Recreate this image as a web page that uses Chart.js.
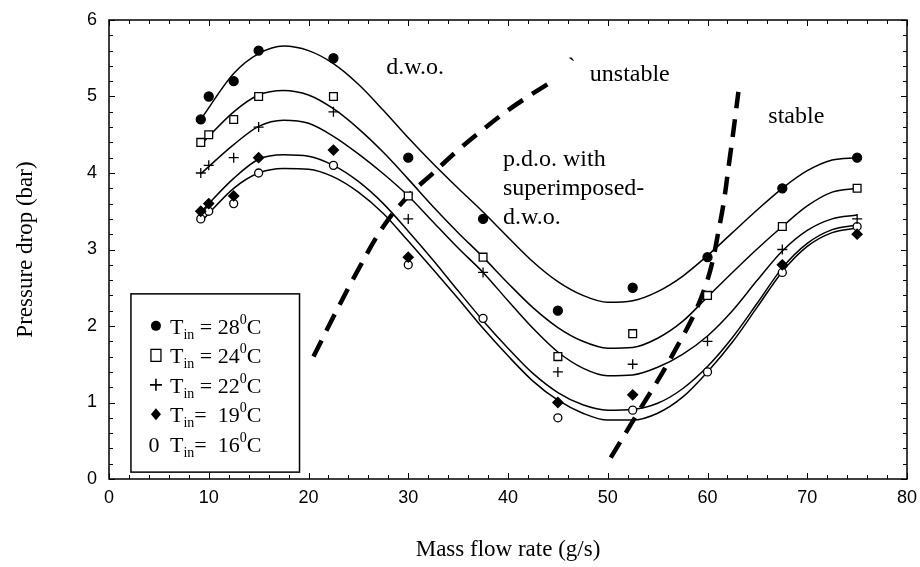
<!DOCTYPE html>
<html>
<head>
<meta charset="utf-8">
<script src="https://cdn.jsdelivr.net/npm/chart.js@4.4.1/dist/chart.umd.min.js"></script>
<style>
  html, body { margin: 0; padding: 0; background: #fff; }
  #wrap { width: 920px; height: 567px; }
</style>
</head>
<body>
<div id="wrap"><canvas id="dpChart" width="920" height="567"></canvas></div>
<script>
// measured pressure drop (bar) against mass flow rate (g/s)
const massFlow = [9.2, 10, 12.5, 15, 22.5, 30, 37.5, 45, 52.5, 60, 67.5, 75];
const dp28 = [4.7, 5.0, 5.2, 5.6, 5.5, 4.2, 3.4, 2.2, 2.5, 2.9, 3.8, 4.2];
const dp24 = [4.4, 4.5, 4.7, 5.0, 5.0, 3.7, 2.9, 1.6, 1.9, 2.4, 3.3, 3.8];
const dp22 = [4.0, 4.1, 4.2, 4.6, 4.8, 3.4, 2.7, 1.4, 1.5, 1.8, 3.0, 3.4];
const dp19 = [3.5, 3.6, 3.7, 4.2, 4.3, 2.9, null, 1.0, 1.1, null, 2.8, 3.2];
const dp16 = [3.4, 3.5, 3.6, 4.0, 4.1, 2.8, 2.1, 0.8, 0.9, 1.4, 2.7, 3.3];

// fitted curves
const curveX = [9.2, 12.5, 15, 17.5, 20, 22.5, 25, 27.5, 30, 32.5, 35, 37.5, 40, 42.5, 45, 47.5, 50, 52.5, 55, 57.5, 60, 62.5, 65, 67.5, 70, 72.5, 75];
const fit28 = [4.70, 5.30, 5.56, 5.66, 5.60, 5.43, 5.16, 4.82, 4.46, 4.12, 3.80, 3.49, 3.16, 2.84, 2.58, 2.40, 2.31, 2.33, 2.45, 2.65, 2.92, 3.22, 3.52, 3.80, 4.03, 4.17, 4.20];
const fit24 = [4.37, 4.80, 5.02, 5.08, 5.02, 4.84, 4.58, 4.27, 3.92, 3.56, 3.22, 2.90, 2.56, 2.24, 1.98, 1.80, 1.71, 1.72, 1.84, 2.06, 2.38, 2.70, 3.01, 3.30, 3.57, 3.75, 3.80];
const fit22 = [3.99, 4.37, 4.61, 4.69, 4.65, 4.48, 4.25, 3.99, 3.70, 3.36, 3.02, 2.70, 2.33, 1.97, 1.66, 1.45, 1.35, 1.36, 1.46, 1.63, 1.87, 2.20, 2.60, 2.98, 3.25, 3.40, 3.45];
const fit19 = [3.49, 3.93, 4.18, 4.24, 4.22, 4.10, 3.89, 3.60, 3.24, 2.86, 2.46, 2.07, 1.71, 1.38, 1.13, 0.97, 0.90, 0.91, 0.99, 1.18, 1.47, 1.85, 2.30, 2.76, 3.08, 3.26, 3.32];
const fit16 = [3.36, 3.80, 4.00, 4.06, 4.05, 3.95, 3.75, 3.47, 3.11, 2.74, 2.36, 1.97, 1.61, 1.28, 1.03, 0.86, 0.77, 0.77, 0.86, 1.07, 1.40, 1.79, 2.25, 2.71, 3.04, 3.22, 3.28];

// stability boundaries
const unstableX = [20.5, 22.5, 25, 27.5, 30, 32.5, 35, 37.5, 40, 42.5, 44.8];
const unstableY = [1.60, 2.12, 2.74, 3.30, 3.70, 4.00, 4.30, 4.57, 4.82, 5.04, 5.23];
const stableX = [50.3, 52.9, 56.4, 59.6, 61.25, 62.3, 63.1];
const stableY = [0.28, 0.84, 1.60, 2.45, 3.34, 4.26, 5.06];

const legendTemps = ["28", "24", "22", "19", "16"];

const notes = [
  { text: "d.w.o.", x: 27.8, y: 5.37 },
  { text: "`", x: 46.0, y: 5.38 },
  { text: "unstable", x: 48.2, y: 5.28 },
  { text: "stable", x: 66.1, y: 4.73 },
  { text: "p.d.o. with", x: 39.5, y: 4.17 },
  { text: "superimposed-", x: 39.5, y: 3.79 },
  { text: "d.w.o.", x: 39.5, y: 3.42 }
];

const serif = "'Liberation Serif', 'DejaVu Serif', serif";

function pts(xs, ys) {
  return xs.map((x, i) => ({ x: x, y: ys[i] })).filter(p => p.y !== null);
}

function curve(ys) {
  return { data: pts(curveX, ys), showLine: true, borderColor: "#000", borderWidth: 1.5, pointRadius: 0,
    cubicInterpolationMode: "monotone", order: 3 };
}

function marks(ys, style, fill, radius) {
  return { data: pts(massFlow, ys), showLine: false, pointStyle: style, pointRadius: radius,
    pointBackgroundColor: fill, pointBorderColor: "#000", pointBorderWidth: 1.3, order: 0 };
}

function dashed(xs, ys) {
  return { data: pts(xs, ys), showLine: true, borderColor: "#000", borderWidth: 4.5, borderDash: [18, 11],
    pointRadius: 0, tension: 0.4, order: 1 };
}

const framePlugin = {
  id: "frame",
  afterDatasetsDraw(chart) {
    const { ctx, chartArea: a, scales: { x, y } } = chart;
    ctx.save();
    ctx.strokeStyle = "#000";
    ctx.lineWidth = 1.5;
    ctx.strokeRect(a.left, a.top, a.right - a.left, a.bottom - a.top);

    // inner ticks on all four sides
    ctx.lineWidth = 1;
    ctx.beginPath();
    for (let i = 0; i <= 40; i++) {
      const px = Math.round(x.getPixelForValue(i * 2)) + 0.5;
      const len = i % 5 === 0 ? 6 : 4;
      ctx.moveTo(px, a.bottom); ctx.lineTo(px, a.bottom - len);
      ctx.moveTo(px, a.top); ctx.lineTo(px, a.top + len);
    }
    for (let i = 0; i <= 30; i++) {
      const py = Math.round(y.getPixelForValue(i * 0.2)) + 0.5;
      const len = i % 5 === 0 ? 6 : 4;
      ctx.moveTo(a.left, py); ctx.lineTo(a.left + len, py);
      ctx.moveTo(a.right, py); ctx.lineTo(a.right - len, py);
    }
    ctx.stroke();

    // annotations
    ctx.fillStyle = "#000";
    ctx.font = "24px " + serif;
    ctx.textAlign = "left";
    ctx.textBaseline = "middle";
    notes.forEach(n => ctx.fillText(n.text, x.getPixelForValue(n.x), y.getPixelForValue(n.y)));

    // legend box
    const bl = x.getPixelForValue(2.2), br = x.getPixelForValue(19.1);
    const bt = y.getPixelForValue(2.42), bb = y.getPixelForValue(0.09);
    ctx.fillStyle = "#fff";
    ctx.fillRect(bl, bt, br - bl, bb - bt);
    ctx.lineWidth = 1.5;
    ctx.strokeRect(bl, bt, br - bl, bb - bt);

    legendTemps.forEach((t, i) => {
      const base = bt + 40 + i * 29.5;
      const mx = bl + 25, my = base - 8;
      ctx.fillStyle = "#000";
      ctx.strokeStyle = "#000";
      ctx.lineWidth = 1.3;
      if (i === 0) {
        ctx.beginPath(); ctx.arc(mx, my, 5, 0, Math.PI * 2); ctx.fill();
      } else if (i === 1) {
        ctx.strokeRect(mx - 5, my - 6, 10, 12);
      } else if (i === 2) {
        ctx.lineWidth = 1.6;
        ctx.beginPath();
        ctx.moveTo(mx - 6, my); ctx.lineTo(mx + 6, my);
        ctx.moveTo(mx, my - 6); ctx.lineTo(mx, my + 6);
        ctx.stroke();
      } else if (i === 3) {
        ctx.beginPath();
        ctx.moveTo(mx, my - 6); ctx.lineTo(mx + 5, my); ctx.lineTo(mx, my + 6); ctx.lineTo(mx - 5, my);
        ctx.closePath(); ctx.fill();
      } else {
        ctx.font = "22px " + serif;
        ctx.textBaseline = "alphabetic";
        ctx.textAlign = "center";
        ctx.fillText("0", mx - 2, base);
      }
      ctx.textAlign = "left";
      ctx.textBaseline = "alphabetic";
      let cx = bl + 39;
      const big = "22px " + serif, small = "14px " + serif;
      const eq = i < 3 ? " = " + t : "=  " + t;
      const parts = [["T", big, 0], ["in", small, 5], [eq, big, 0], ["0", small, -10], ["C", big, 0]];
      parts.forEach(p => {
        ctx.font = p[1];
        ctx.fillText(p[0], cx, base + p[2]);
        cx += ctx.measureText(p[0]).width;
      });
    });
    ctx.restore();
  }
};

const tickFont = { family: "'Liberation Sans', Arial, sans-serif", size: 18 };
const titleFont = { family: serif, size: 23 };

new Chart(document.getElementById("dpChart").getContext("2d"), {
  type: "scatter",
  data: {
    datasets: [
      marks(dp28, "circle", "#000", 4.5),
      marks(dp24, "rect", "#fff", 5.5),
      marks(dp22, "cross", "#000", 5),
      marks(dp19, "rectRot", "#000", 5),
      marks(dp16, "circle", "#fff", 4),
      dashed(unstableX, unstableY),
      dashed(stableX, stableY),
      curve(fit28), curve(fit24), curve(fit22), curve(fit19), curve(fit16)
    ]
  },
  options: {
    responsive: false,
    animation: false,
    layout: { padding: { top: 20, right: 13, left: 0, bottom: 0 } },
    plugins: { legend: { display: false }, tooltip: { enabled: false } },
    scales: {
      x: {
        type: "linear", min: 0, max: 80,
        ticks: { stepSize: 10, color: "#000", font: tickFont, padding: 8, maxRotation: 0 },
        grid: { display: false, drawTicks: false },
        border: { display: false },
        title: { display: true, text: "Mass flow rate (g/s)", color: "#000", font: titleFont, padding: { top: 0, bottom: 3 } },
        afterFit(scale) { scale.height = 88; scale.paddingLeft = 0; scale.paddingRight = 0; }
      },
      y: {
        type: "linear", min: 0, max: 6,
        ticks: { stepSize: 1, color: "#000", font: tickFont, padding: 12 },
        grid: { display: false, drawTicks: false },
        border: { display: false },
        title: { display: true, text: "Pressure drop (bar)", color: "#000", font: titleFont, padding: { top: 12, bottom: 0 } },
        afterFit(scale) { scale.width = 109; scale.paddingTop = 0; scale.paddingBottom = 0; }
      }
    }
  },
  plugins: [framePlugin]
});
</script>
</body>
</html>
